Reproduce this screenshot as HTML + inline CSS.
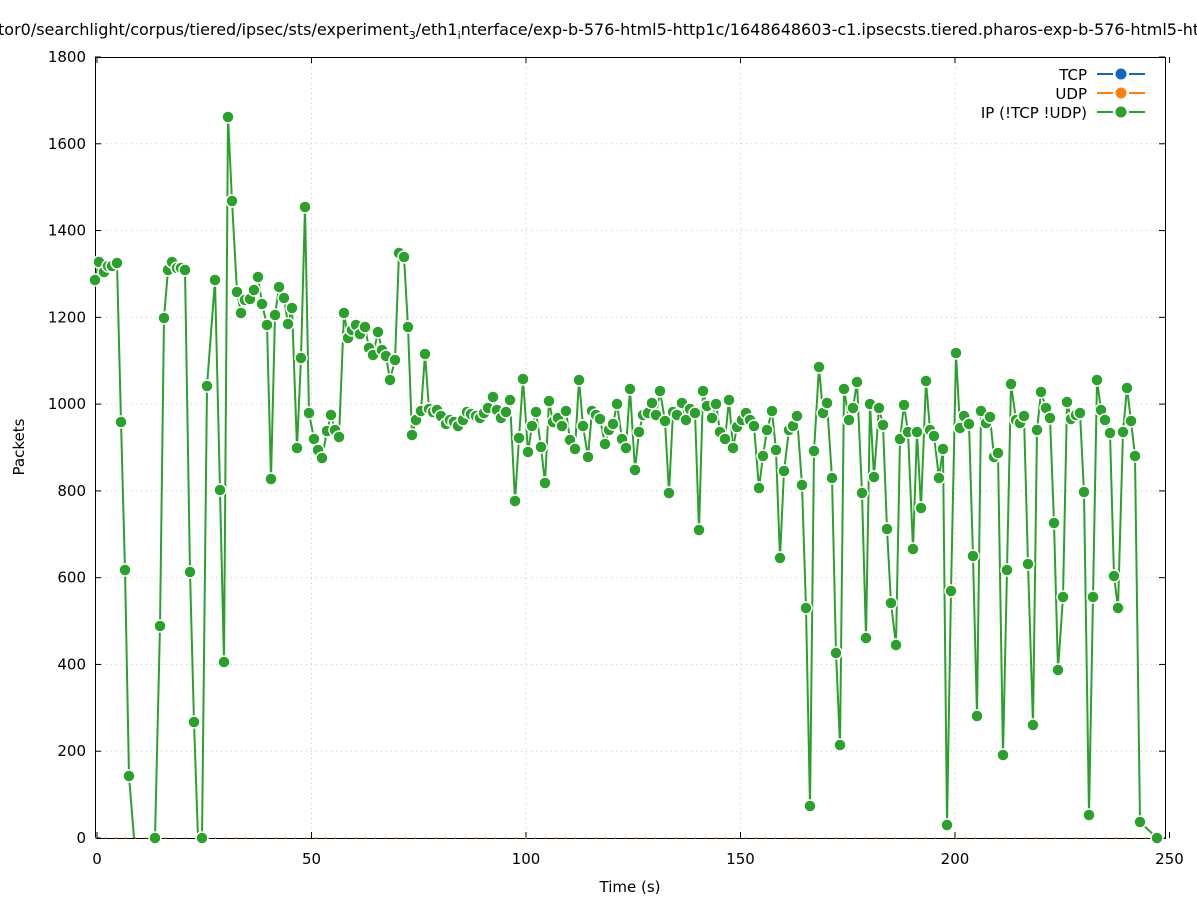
<!DOCTYPE html>
<html><head><meta charset="utf-8"><style>
body{margin:0;background:#fff;width:1197px;height:900px;overflow:hidden}
svg text{font-family:"DejaVu Sans","Liberation Sans",sans-serif;fill:#000}
</style></head><body>
<svg id="s" width="1197" height="900" xmlns="http://www.w3.org/2000/svg">
<rect width="1197" height="900" fill="#fff"/>
<text x="-2" y="35" font-size="16">tor0/searchlight/corpus/tiered/ipsec/sts/experiment<tspan font-size="11" dy="4">3</tspan><tspan dy="-4">/eth1</tspan><tspan font-size="11" dy="4">i</tspan><tspan dy="-4">nterface/exp-b-576-html5-http1c/1648648603-c1.ipsecsts.tiered.pharos-exp-b-576-html5-http1c</tspan></text>
<g id="grid" stroke="#c8c8c8" stroke-width="1" stroke-dasharray="1,4"></g>
<rect x="95.5" y="57.5" width="1070" height="781" fill="none" stroke="#000" stroke-width="1"/>
<g id="ticks" stroke="#000" stroke-width="1"></g>
<g id="lab" font-size="15"></g>
<text x="630" y="892" font-size="15" text-anchor="middle">Time (s)</text>
<text transform="translate(24,447) rotate(-90)" font-size="15" text-anchor="middle">Packets</text>
<line x1="95" y1="838" x2="1165" y2="838" stroke="#ff7f0e" stroke-width="1.5" stroke-dasharray="1.5,8.5"/>
<g id="data"></g>
<g font-size="15" text-anchor="end">
<text x="1087" y="80">TCP</text><text x="1087" y="99">UDP</text><text x="1087" y="118">IP (!TCP  !UDP)</text>
</g>
<g stroke-width="2">
<path d="M1097,74H1113M1129,74H1145" stroke="#1565c0"/>
<circle cx="1121" cy="74" r="5.5" fill="#1565c0"/>
<path d="M1097,93H1113M1129,93H1145" stroke="#ff7f0e"/>
<circle cx="1121" cy="93" r="5.5" fill="#ff7f0e"/>
<path d="M1097,112H1113M1129,112H1145" stroke="#2ca02c"/>
<circle cx="1121" cy="112" r="5.5" fill="#2ca02c"/>
</g>
</svg>
<script>
var NS="http://www.w3.org/2000/svg";
function el(p,t,a,txt){var e=document.createElementNS(NS,t);for(var k in a)e.setAttribute(k,a[k]);if(txt!==undefined)e.textContent=txt;document.getElementById(p).appendChild(e);return e;}
for(var v=0;v<=1800;v+=200){var y=838-v*781/1800;
 if(v>0&&v<1800)el("grid","line",{x1:96,x2:1165,y1:y,y2:y});
 el("ticks","line",{x1:95,x2:101,y1:y,y2:y});el("ticks","line",{x1:1159,x2:1165,y1:y,y2:y});
 el("lab","text",{x:86,y:y+5,"text-anchor":"end"},v);}
for(var t=0;t<=250;t+=50){var x=97+t*4.29;
 if(t>0&&t<250)el("grid","line",{x1:x,x2:x,y1:58,y2:838});
 el("ticks","line",{x1:x,x2:x,y1:838,y2:832});el("ticks","line",{x1:x,x2:x,y1:57,y2:63});
 el("lab","text",{x:x,y:864,"text-anchor":"middle"},t);}
var P=[[95,280],[99,262],[104,272],[108,266],[112,266],[117,263],[121,422],[125,570],[129,776],[134,838,1],null,[155,838],[160,626],[164,318],[168,270],[172,262],[177,268],[181,268],[185,270],[190,572],[194,722],[198,838,1],[202,838],[207,386],[215,280],[220,490],[224,662],[228,117],[232,201],[237,292],[241,313],[245,300],[250,299],[254,290],[258,277],[262,304],[267,325],[271,479],[275,315],[279,287],[284,298],[288,324],[292,308],[297,448],[301,358],[305,207],[309,413],[314,439],[318,450],[322,458],[327,431],[331,415],[335,430],[339,437],[344,313],[348,338],[352,330],[356,325],[360,334],[365,327],[369,348],[373,355],[378,332],[382,350],[386,356],[390,380],[395,360],[399,253],[404,257],[408,327],[412,435],[416,420],[421,411],[425,354],[429,409],[433,412],[437,410],[441,416],[446,424],[450,420],[454,422],[458,426],[463,420],[467,412],[471,414],[476,416],[480,418],[484,413],[488,408],[493,397],[497,410],[501,418],[506,412],[510,400],[515,501],[519,438],[523,379],[528,452],[532,426],[536,412],[541,447],[545,483],[549,401],[553,422],[558,418],[562,426],[566,411],[570,440],[575,449],[579,380],[583,426],[588,457],[592,411],[596,415],[600,419],[605,444],[609,430],[613,424],[617,404],[622,439],[626,448],[630,389],[635,470],[639,432],[643,415],[648,413],[652,403],[656,415],[660,391],[665,421],[669,493],[673,412],[677,415],[682,403],[686,420],[690,409],[695,413],[699,530],[703,391],[707,406],[712,418],[716,404],[720,432],[725,439],[729,400],[733,448],[737,427],[742,420],[746,413],[750,420],[754,426],[759,488],[763,456],[767,430],[772,411],[776,450],[780,558],[784,471],[789,430],[793,426],[797,416],[802,485],[806,608],[810,806],[814,451],[819,367],[823,413],[827,403],[832,478],[836,653],[840,745],[844,389],[849,420],[853,408],[857,382],[862,493],[866,638],[870,404],[874,477],[879,408],[883,425],[887,529],[891,603],[896,645],[900,439],[904,405],[908,432],[913,549],[917,432],[921,508],[926,381],[930,430],[934,436],[939,478],[943,449],[947,825],[951,591],[956,353],[960,428],[964,416],[969,424],[973,556],[977,716],[981,411],[986,423],[990,417],[994,457],[998,453],[1003,755],[1007,570],[1011,384],[1016,420],[1020,423],[1024,416],[1028,564],[1033,725],[1037,430],[1041,392],[1046,408],[1050,418],[1054,523],[1058,670],[1063,597],[1067,402],[1071,419],[1076,415],[1080,413],[1084,492],[1089,815],[1093,597],[1097,380],[1101,410],[1105,420],[1110,433],[1114,576],[1118,608],[1123,432],[1127,388],[1131,421],[1135,456],[1140,822],[1157,838]];
var d="",m=false;P.forEach(function(p){if(!p){m=false;return;}d+=(m?"L":"M")+p[0]+","+p[1];m=true;});
el("data","path",{d:d,fill:"none",stroke:"#2ca02c","stroke-width":2,"stroke-linejoin":"round"});
P.forEach(function(p){if(p&&!p[2])el("data","circle",{cx:p[0],cy:p[1],r:6,fill:"#2ca02c",stroke:"#fff","stroke-width":1.5});});
</script>
</body></html>
